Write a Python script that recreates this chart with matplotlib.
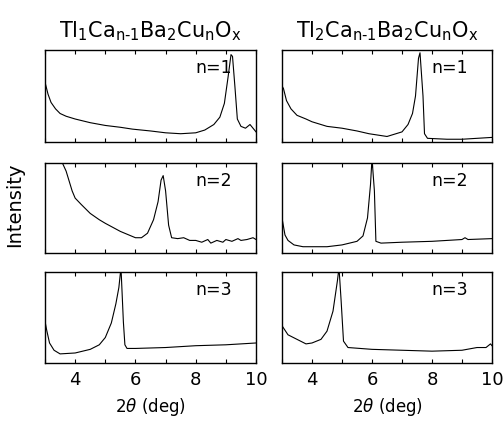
import matplotlib
matplotlib.use('Agg')
import matplotlib.pyplot as plt

plt.rcParams['font.family'] = ['DejaVu Sans']
plt.rcParams['mathtext.fontset'] = 'dejavusans'

# digitized scans, intensity normalised to panel height (0 bottom, 1 top)
tl1_n1_x = [3.0, 3.1, 3.2, 3.35, 3.5, 3.7, 4.0, 4.5, 5.0, 5.5, 5.9, 6.5, 7.0, 7.5, 8.0,
            8.3, 8.6, 8.8, 8.95, 9.07, 9.17, 9.22, 9.3, 9.38, 9.5, 9.65, 9.8, 9.9, 10.0]
tl1_n1_y = [0.65, 0.52, 0.43, 0.36, 0.31, 0.28, 0.25, 0.21, 0.18, 0.16, 0.14, 0.12, 0.10,
            0.09, 0.10, 0.13, 0.19, 0.27, 0.42, 0.70, 0.95, 0.93, 0.60, 0.25, 0.17, 0.15,
            0.19, 0.15, 0.11]

tl1_n2_x = [3.55, 3.7, 3.9, 4.0, 4.2, 4.5, 4.8, 5.0, 5.5, 6.0, 6.2, 6.4, 6.6, 6.75, 6.85,
            6.92, 7.0, 7.1, 7.2, 7.4, 7.6, 7.8, 8.0, 8.2, 8.4, 8.5, 8.7, 8.9, 9.0,
            9.2, 9.4, 9.5, 9.7, 9.9, 10.0]
tl1_n2_y = [1.02, 0.91, 0.69, 0.61, 0.54, 0.44, 0.37, 0.33, 0.24, 0.17, 0.17, 0.22, 0.37,
            0.57, 0.81, 0.86, 0.69, 0.31, 0.17, 0.16, 0.17, 0.14, 0.14, 0.12, 0.15, 0.11,
            0.14, 0.12, 0.15, 0.13, 0.16, 0.14, 0.15, 0.17, 0.15]

tl1_n3_x = [3.0, 3.05, 3.15, 3.3, 3.5, 4.0, 4.5, 4.8, 5.0, 5.2, 5.35, 5.45, 5.52, 5.6,
            5.65, 5.72, 6.0, 7.0, 8.0, 9.0, 10.0]
tl1_n3_y = [0.46, 0.37, 0.22, 0.14, 0.10, 0.11, 0.15, 0.20, 0.28, 0.44, 0.65, 0.83, 1.05,
            0.45, 0.20, 0.16, 0.16, 0.17, 0.19, 0.20, 0.22]

tl2_n1_x = [3.0, 3.05, 3.15, 3.3, 3.5, 3.8, 4.0, 4.5, 5.0, 5.5, 5.9, 6.5, 6.8, 7.0, 7.2,
            7.35, 7.45, 7.55, 7.6, 7.7, 7.75, 7.85, 8.5, 9.0, 9.5, 10.0]
tl2_n1_y = [0.61, 0.58, 0.45, 0.36, 0.29, 0.25, 0.22, 0.17, 0.15, 0.12, 0.09, 0.06, 0.09,
            0.11, 0.19, 0.31, 0.50, 0.91, 0.97, 0.50, 0.09, 0.04, 0.03, 0.03, 0.04, 0.05]

tl2_n2_x = [3.0, 3.1, 3.2, 3.4, 3.7, 4.0, 4.5, 5.0, 5.5, 5.7, 5.85, 5.95, 6.0, 6.08, 6.13,
            6.3, 7.0, 8.0, 9.0, 9.1, 9.2, 10.0]
tl2_n2_y = [0.39, 0.20, 0.14, 0.09, 0.07, 0.07, 0.07, 0.09, 0.13, 0.19, 0.39, 0.76, 1.05,
            0.69, 0.13, 0.11, 0.12, 0.13, 0.15, 0.17, 0.15, 0.16]

tl2_n3_x = [3.0, 3.2, 3.5, 3.8, 4.0, 4.3, 4.5, 4.7, 4.85, 4.9, 4.97, 5.05, 5.2, 6.0, 7.0,
            8.0, 9.0, 9.5, 9.8, 9.95, 10.0]
tl2_n3_y = [0.41, 0.31, 0.26, 0.21, 0.22, 0.26, 0.35, 0.57, 0.91, 1.05, 0.69, 0.24, 0.17,
            0.15, 0.14, 0.13, 0.14, 0.17, 0.17, 0.21, 0.19]

titles = [r'$\mathregular{Tl_1Ca_{n\text{-}1}Ba_2Cu_nO_x}$',
          r'$\mathregular{Tl_2Ca_{n\text{-}1}Ba_2Cu_nO_x}$']
n_labels = ['n=1', 'n=2', 'n=3']
xticks = [4, 6, 8, 10]

columns = [
    [(tl1_n1_x, tl1_n1_y), (tl1_n2_x, tl1_n2_y), (tl1_n3_x, tl1_n3_y)],
    [(tl2_n1_x, tl2_n1_y), (tl2_n2_x, tl2_n2_y), (tl2_n3_x, tl2_n3_y)],
]

fig = plt.figure(figsize=(5.04, 4.21), dpi=100)

col_left = [0.0893, 0.5595]
col_width = [0.4187, 0.4167]
row_bottom = [0.6627, 0.399, 0.1378]
row_height = [0.2185, 0.2138, 0.216]

for c in range(2):
    for r in range(3):
        ax = fig.add_axes([col_left[c], row_bottom[r], col_width[c], row_height[r]])
        x, y = columns[c][r]
        ax.plot(x, y, color='black', lw=0.8)
        ax.set_xlim(3, 10)
        ax.set_ylim(0, 1)
        ax.set_yticks([])
        ax.set_xticks(range(3, 11), minor=True)
        ax.set_xticks(xticks)
        ax.tick_params(axis='x', which='both', direction='in', top=True, length=3,
                       width=0.8, labelsize=13, pad=6)
        if r < 2:
            ax.set_xticklabels([])
        for s in ax.spines.values():
            s.set_linewidth(1.0)
        ax.text(0.80, 0.80, n_labels[r], transform=ax.transAxes, ha='center',
                va='center', fontsize=12.5)
        if r == 0:
            ax.set_title(titles[c], fontsize=15, pad=9)
        if r == 2:
            ax.set_xlabel(r'2$\it{\theta}$ (deg)', fontsize=12, labelpad=5)

fig.text(0.03, 0.513, 'Intensity', rotation=90, ha='center', va='center', fontsize=14)

fig.savefig('out.png', dpi=100)
